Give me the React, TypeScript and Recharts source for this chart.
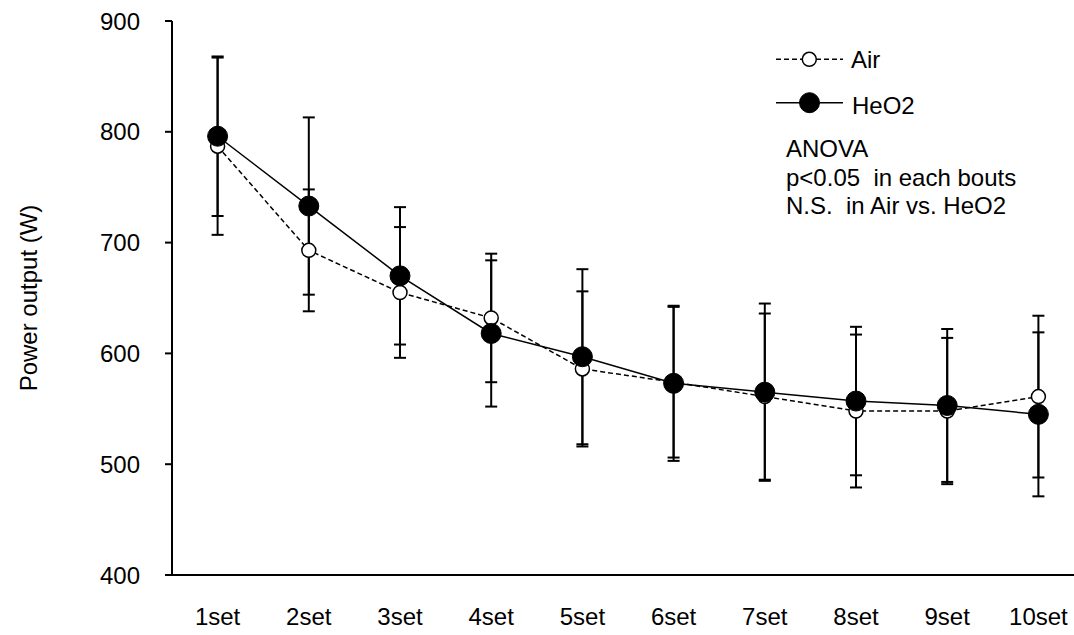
import React from 'react';
import { LineChart, Line, XAxis, YAxis, ErrorBar, Legend } from 'recharts';

const categories = ['1set', '2set', '3set', '4set', '5set', '6set', '7set', '8set', '9set', '10set'];
const airMean = [787, 693, 655, 632, 586, 574, 561, 548, 548, 561];
const airSD = [80, 55, 59, 58, 70, 68, 75, 69, 66, 73];
const heo2Mean = [796, 733, 670, 618, 597, 573, 565, 557, 553, 545];
const heo2SD = [72, 80, 62, 66, 79, 70, 80, 67, 69, 74];
const yTicks = [400, 500, 600, 700, 800, 900];
const annotationLines = ['ANOVA', 'p<0.05  in each bouts', 'N.S.  in Air vs. HeO2'];

const data = categories.map((c, i) => ({
  cat: c,
  air: airMean[i],
  airSD: airSD[i],
  heo2: heo2Mean[i],
  heo2SD: heo2SD[i],
}));

const FONT = '"Liberation Sans", Arial, Helvetica, sans-serif';

const LegendBox = () => (
  <svg width={300} height={200} style={{ display: 'block', overflow: 'visible' }}>
    <g fontFamily={FONT} fontSize={24} fill="#000">
      <line x1={16} y1={29.3} x2={83} y2={29.3} stroke="#000" strokeWidth={1.5} strokeDasharray="5 3" />
      <circle cx={49.3} cy={29.3} r={7} fill="#fff" stroke="#000" strokeWidth={1.5} />
      <text x={91} y={38}>Air</text>
      <line x1={16} y1={72.7} x2={83} y2={72.7} stroke="#000" strokeWidth={1.5} />
      <circle cx={49.5} cy={72.7} r={10} fill="#000" stroke="#000" strokeWidth={1} />
      <text x={92} y={84}>HeO2</text>
      {annotationLines.map((t, i) => (
        <text key={i} x={26} y={127 + i * 28.5} style={{ whiteSpace: 'pre' }}>
          {t}
        </text>
      ))}
    </g>
  </svg>
);

export default function App() {
  return (
    <div
      style={{
        position: 'fixed',
        left: 0,
        top: 0,
        width: 1074,
        height: 635,
        overflow: 'hidden',
        background: '#fff',
        fontFamily: FONT,
      }}
    >
      <LineChart
        width={1100}
        height={635}
        data={data}
        margin={{ top: 21, right: 16, bottom: 0, left: 0 }}
        style={{ fontFamily: FONT }}
      >
        <XAxis
          dataKey="cat"
          interval={0}
          padding={{ left: 45.6, right: 45.6 }}
          axisLine={{ stroke: '#000', strokeWidth: 2 }}
          tickLine={false}
          tickSize={0}
          tickMargin={33}
          height={60}
          tick={{ fill: '#000', fontSize: 24, fontFamily: FONT }}
        />
        <YAxis
          type="number"
          domain={[400, 900]}
          ticks={yTicks}
          allowDataOverflow
          width={172}
          axisLine={{ stroke: '#000', strokeWidth: 2 }}
          tickLine={{ stroke: '#000', strokeWidth: 2 }}
          tickSize={7}
          tickMargin={25}
          tick={{ fill: '#000', fontSize: 24, fontFamily: FONT }}
          label={{
            value: 'Power output (W)',
            angle: -90,
            position: 'insideLeft',
            offset: 28,
            style: { textAnchor: 'middle', fontSize: 24, fill: '#000', fontFamily: FONT },
          }}
        />
        <Legend
          layout="vertical"
          align="center"
          verticalAlign="middle"
          wrapperStyle={{ left: 760, top: 30, width: 300, height: 200 }}
          content={() => <LegendBox />}
        />
        <Line
          dataKey="air"
          name="Air"
          stroke="#000"
          strokeWidth={1.5}
          strokeDasharray="5 3"
          dot={false}
          activeDot={false}
          isAnimationActive={false}
        >
          <ErrorBar dataKey="airSD" direction="y" width={6} strokeWidth={2} stroke="#000" />
        </Line>
        <Line
          dataKey="heo2"
          name="HeO2"
          stroke="#000"
          strokeWidth={1.5}
          dot={false}
          activeDot={false}
          isAnimationActive={false}
        >
          <ErrorBar dataKey="heo2SD" direction="y" width={6} strokeWidth={2} stroke="#000" />
        </Line>
        <Line
          dataKey="air"
          name="Air markers"
          stroke="none"
          legendType="none"
          dot={{ r: 7, fill: '#fff', stroke: '#000', strokeWidth: 1.5 }}
          activeDot={false}
          isAnimationActive={false}
        />
        <Line
          dataKey="heo2"
          name="HeO2 markers"
          stroke="none"
          legendType="none"
          dot={{ r: 10, fill: '#000', stroke: '#000', strokeWidth: 1 }}
          activeDot={false}
          isAnimationActive={false}
        />
      </LineChart>
    </div>
  );
}
